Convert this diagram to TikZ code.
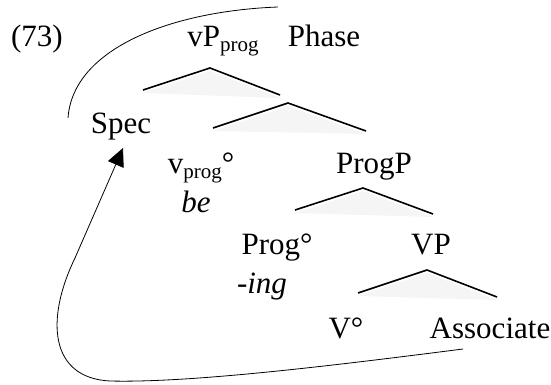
\documentclass[tikz,border=0pt]{standalone}
\usepackage{fontspec}
\setmainfont{Liberation Serif}
\usetikzlibrary{arrows.meta}
\newcommand{\subtxt}[1]{\raisebox{-5pt}{\fontsize{21}{24}\selectfont #1}}
\tikzset{
  lbl/.style={anchor=base, inner sep=0pt, font=\fontsize{31}{36}\selectfont},
  branch/.style={line width=1.6pt, line cap=butt, line join=miter},
  shade/.style={fill=black!4, draw=none},
  movement/.style={line width=0.8pt},
}
\begin{document}
\begin{tikzpicture}[x=1pt,y=-1pt]
\useasboundingbox (0,0) rectangle (551,385);
% labels
\node[lbl] (ex) at (37,47) {(73)};
\node[lbl] (vp) at (223,47) {vP\subtxt{prog}};
\node[lbl] (phase) at (324,47) {Phase};
\node[lbl] (spec) at (121,133) {Spec};
\node[lbl] (vprog) at (201,173) {v\subtxt{prog}°};
\node[lbl] (be) at (196,212) {\itshape be};
\node[lbl] (progp) at (374,173) {ProgP};
\node[lbl] (prog) at (277,254) {Prog°};
\node[lbl] (vpp) at (431,254) {VP};
\node[lbl] (ing) at (262,293) {\itshape -ing};
\node[lbl] (v) at (346,338) {V°};
\node[lbl] (assoc) at (490,338) {Associate};
% branch points
\coordinate (a1) at (210,68);  \coordinate (l1) at (143,90);  \coordinate (r1) at (280,95);
\coordinate (a2) at (288,103); \coordinate (l2) at (213,128); \coordinate (r2) at (366,131);
\coordinate (a3) at (363,188); \coordinate (l3) at (295,210); \coordinate (r3) at (433,214);
\coordinate (a4) at (427,270); \coordinate (l4) at (358,293); \coordinate (r4) at (497,297);
% shadows
\foreach \i in {1,2,3,4}{
  \fill[shade] ([yshift=-3pt]l\i) -- ([yshift=-3pt]a\i) -- ([yshift=-3pt]r\i) -- cycle;
}
% branches
\foreach \i in {1,2,3,4}{
  \draw[branch] (l\i) -- (a\i) -- (r\i);
}
% phase arc
\coordinate (arcL) at (68,118);
\coordinate (arcR) at (278,7);
\draw[movement] (arcL) .. controls (73,48) and (172,11) .. (arcR);
% movement arrow
\coordinate (start) at (463,349);
\coordinate (tip) at (123,148);
\draw[movement,-{Triangle[length=18pt,width=17pt]}] (start) .. controls (330,366) and (190,383) .. (110,381) .. controls (50,378) and (45,320) .. (75,258) -- (tip);
\end{tikzpicture}
\end{document}
